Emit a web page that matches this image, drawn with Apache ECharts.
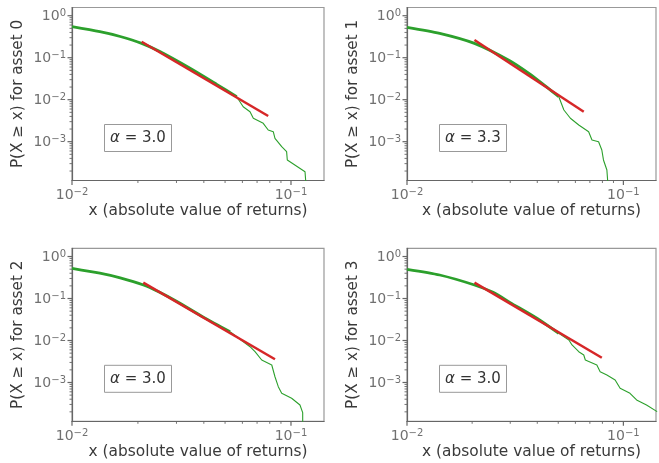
<!DOCTYPE html>
<html>
<head>
<meta charset="utf-8">
<script src="https://cdn.jsdelivr.net/npm/echarts@6/dist/echarts.min.js"></script>
<style>
  html, body { margin: 0; padding: 0; background: #fff; }
  #chart { width: 659px; height: 463px; }
</style>
</head>
<body>
<div id="chart"></div>
<script>
const assetNames = ['asset 0', 'asset 1', 'asset 2', 'asset 3'];
const alphaLabels = ['3.0', '3.3', '3.0', '3.0'];

// dense part of each empirical CCDF (drawn thick)
const head0 = [[0.01,0.547],[0.0134,0.416],[0.0166,0.32],[0.0208,0.22],[0.0252,0.14],[0.0346,0.056],[0.0458,0.0232],[0.0565,0.0118]];
const head1 = [[0.01,0.53],[0.01416,0.381],[0.0205,0.22],[0.0297,0.0858],[0.0366,0.0421],[0.0453,0.0181],[0.0503,0.01179]];
const head2 = [[0.01,0.524],[0.0134,0.40],[0.0166,0.31],[0.0212,0.21],[0.025,0.142],[0.03,0.086],[0.04,0.0355],[0.0527,0.0162]];
const head3 = [[0.01,0.496],[0.01416,0.363],[0.0205,0.21],[0.025,0.14],[0.03,0.08],[0.04,0.0335],[0.0503,0.0148]];

// sparse tail (drawn thin)
const tail0 = [[0.0565,0.0118],[0.0605,0.00681],[0.065,0.00518],[0.0673,0.00361],[0.0747,0.00274],[0.0787,0.0019],[0.083,0.00173],[0.0845,0.0012],[0.0907,0.00076],[0.0955,0.00058],[0.0962,0.000367],[0.1159,0.000193],[0.117,0.0001]];
const tail1 = [[0.0503,0.01179],[0.0531,0.00569],[0.0569,0.00361],[0.0622,0.0025],[0.0691,0.00173],[0.0716,0.0011],[0.0768,0.001],[0.0795,0.000634],[0.0809,0.000367],[0.0839,0.000212],[0.0848,0.0001]];
const tail2 = [[0.0527,0.0162],[0.0606,0.00936],[0.065,0.00711],[0.0685,0.00541],[0.0735,0.00343],[0.0817,0.00261],[0.0845,0.00137],[0.0875,0.000794],[0.0907,0.000553],[0.1007,0.000421],[0.1099,0.000291],[0.1131,0.000191],[0.1131,0.0001]];
const tail3 = [[0.0503,0.0148],[0.056,0.0103],[0.0579,0.00782],[0.0622,0.00541],[0.0656,0.00452],[0.0667,0.00343],[0.0754,0.00261],[0.0781,0.00181],[0.0839,0.00151],[0.0916,0.00115],[0.0966,0.000728],[0.1073,0.000553],[0.1151,0.000383],[0.1279,0.000291],[0.1432,0.000202]];

// power-law fit lines
const fit0 = [[0.0208,0.240],[0.0787,0.00409]];
const fit1 = [[0.0205,0.264],[0.0656,0.00518]];
const fit2 = [[0.02116,0.238],[0.0845,0.00357]];
const fit3 = [[0.0205,0.238],[0.0795,0.00389]];

const heads = [head0, head1, head2, head3];
const tails = [tail0, tail1, tail2, tail3];
const fits = [fit0, fit1, fit2, fit3];

// axis ranges and ticks
const X_MIN = 0.01, X_MAX = 0.1415;
const Y_MIN = 1.19e-4, Y_MAX = 1.57;
const xMajorTicks = [0.01, 0.1];
const xMinorTicks = [0.02,0.03,0.04,0.05,0.06,0.07,0.08,0.09];
const yMajorTicks = [1e-3, 1e-2, 1e-1, 1];
const yMinorTicks = [2e-4,3e-4,4e-4,5e-4,6e-4,7e-4,8e-4,9e-4,
  2e-3,3e-3,4e-3,5e-3,6e-3,7e-3,8e-3,9e-3,
  0.02,0.03,0.04,0.05,0.06,0.07,0.08,0.09,
  0.2,0.3,0.4,0.5,0.6,0.7,0.8,0.9];

const FONT = 'DejaVu Sans';
const LABEL_COLOR = '#707070';
const NAME_COLOR = '#3a3a3a';

const grids = [
  { left: 72, top: 7.5, width: 252, height: 173 },
  { left: 407, top: 7.5, width: 251, height: 173 },
  { left: 72, top: 248.3, width: 252, height: 173 },
  { left: 407, top: 248.3, width: 251, height: 173 }
];

const labelRich = {
  b: { fontSize: 14, color: LABEL_COLOR, fontFamily: FONT, lineHeight: 15, verticalAlign: 'bottom' },
  s: { fontSize: 10, color: LABEL_COLOR, fontFamily: FONT, lineHeight: 10, verticalAlign: 'top', padding: [0, 0, 5, 0] }
};

function powLabel(v) {
  const e = Math.log10(v);
  const r = Math.round(e);
  if (Math.abs(e - r) > 1e-6) return '';
  return '{b|10}{s|' + (r < 0 ? '\u2212' + (-r) : r) + '}';
}

function tickSeries(i) {
  const data = [];
  xMajorTicks.forEach(v => data.push([v, Y_MIN, 0]));
  xMinorTicks.forEach(v => data.push([v, Y_MIN, 1]));
  yMajorTicks.forEach(v => data.push([X_MIN, v, 2]));
  yMinorTicks.forEach(v => data.push([X_MIN, v, 3]));
  return {
    type: 'custom', xAxisIndex: i, yAxisIndex: i, silent: true, clip: false, z: 5,
    data: data,
    renderItem: function (params, api) {
      const p = api.coord([api.value(0), api.value(1)]);
      const k = api.value(2);
      const major = (k === 0 || k === 2);
      const len = major ? 4.5 : 2.5;
      const shape = k >= 2
        ? { x1: p[0] - len, y1: p[1], x2: p[0], y2: p[1] }
        : { x1: p[0], y1: p[1], x2: p[0], y2: p[1] + len };
      return { type: 'line', shape: shape, style: { stroke: '#666', lineWidth: major ? 1.2 : 0.9 } };
    }
  };
}

const chart = echarts.init(document.getElementById('chart'));

const option = {
  animation: false,
  backgroundColor: '#fff',
  grid: grids.map(g => Object.assign({ show: true, borderColor: '#999', borderWidth: 1.2, backgroundColor: 'transparent' }, g)),
  title: grids.map((g, i) => ({
    text: '{i|\u03b1} = ' + alphaLabels[i],
    left: g.left + 32,
    top: g.top + 116.5,
    padding: [4, 6],
    borderColor: '#999',
    borderWidth: 1,
    backgroundColor: '#fff',
    textStyle: {
      fontFamily: FONT, fontSize: 15, fontWeight: 'normal', color: '#333', lineHeight: 20,
      rich: { i: { fontFamily: FONT, fontSize: 15, fontStyle: 'italic', color: '#333', lineHeight: 20 } }
    }
  })),
  xAxis: grids.map((g, i) => ({
    type: 'log', logBase: 10, gridIndex: i, min: X_MIN, max: X_MAX,
    name: 'x (absolute value of returns)', nameLocation: 'middle', nameGap: 21,
    nameTextStyle: { fontFamily: FONT, fontSize: 15.4, color: NAME_COLOR },
    axisLine: { show: true, lineStyle: { color: '#666', width: 1.2 } },
    axisTick: { show: false },
    splitLine: { show: false },
    axisLabel: { formatter: powLabel, margin: 7, rich: labelRich }
  })),
  yAxis: grids.map((g, i) => ({
    type: 'log', logBase: 10, gridIndex: i, min: Y_MIN, max: Y_MAX,
    name: 'P(X \u2265 x) for ' + assetNames[i], nameLocation: 'middle', nameGap: 46,
    nameTextStyle: { fontFamily: FONT, fontSize: 15.2, color: NAME_COLOR },
    axisLine: { show: true, lineStyle: { color: '#666', width: 1.2 } },
    axisTick: { show: false },
    splitLine: { show: false },
    axisLabel: { formatter: powLabel, margin: 6, rich: labelRich }
  })),
  series: []
};

for (let i = 0; i < 4; i++) {
  option.series.push({
    type: 'line', xAxisIndex: i, yAxisIndex: i, data: heads[i], showSymbol: false, smooth: 0.25,
    lineStyle: { color: '#2ca02c', width: 2.8 }, z: 2
  });
  option.series.push({
    type: 'line', xAxisIndex: i, yAxisIndex: i, data: tails[i], showSymbol: false,
    lineStyle: { color: '#2ca02c', width: 1.1 }, z: 2
  });
  option.series.push({
    type: 'line', xAxisIndex: i, yAxisIndex: i, data: fits[i], showSymbol: false,
    lineStyle: { color: '#d62728', width: 2.5 }, z: 3
  });
  option.series.push(tickSeries(i));
}

chart.setOption(option);
</script>
</body>
</html>
